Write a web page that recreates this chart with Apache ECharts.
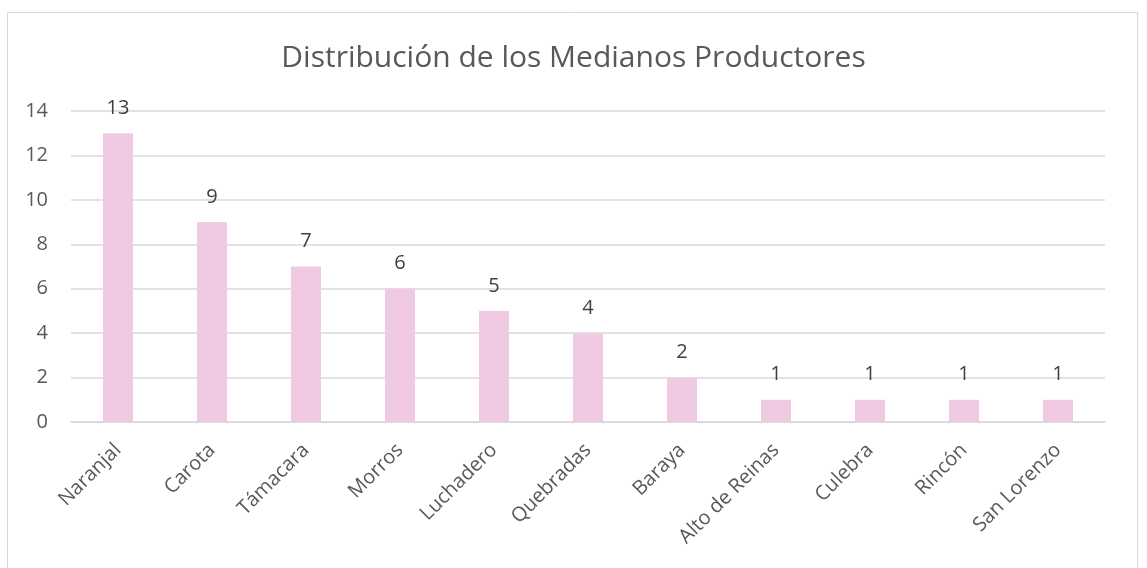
<!DOCTYPE html>
<html>
<head>
<meta charset="utf-8">
<script src="https://cdn.jsdelivr.net/npm/echarts@6/dist/echarts.min.js"></script>
<style>
  html, body { margin: 0; padding: 0; background: #fff; }
  #grafica { width: 1147px; height: 568px; }
</style>
</head>
<body>
<div id="grafica"></div>
<script>
const categorias = ["Naranjal", "Carota", "Támacara", "Morros", "Luchadero", "Quebradas", "Baraya", "Alto de Reinas", "Culebra", "Rincón", "San Lorenzo"];
const productores = [13, 9, 7, 6, 5, 4, 2, 1, 1, 1, 1];
const ticksY = [0, 2, 4, 6, 8, 10, 12, 14];

const fuente = "'Open Sans', sans-serif";

const getOptionChart = () => {
  return {
    backgroundColor: "#fff",
    animation: false,
    title: {
      text: "Distribución de los Medianos Productores",
      left: "center",
      top: 38,
      textStyle: {
        fontFamily: fuente,
        fontSize: 30,
        fontWeight: "normal",
        color: "#595959",
      },
    },
    graphic: [
      {
        type: "rect",
        shape: { x: 7.5, y: 12.5, width: 1130, height: 570 },
        style: { fill: "none", stroke: "#d9d9d9", lineWidth: 1 },
        silent: true,
      },
    ],
    grid: { left: 71, right: 42, top: 111, bottom: 146 },
    xAxis: {
      type: "category",
      data: categorias,
      axisLine: { lineStyle: { color: "#d9d9d9", width: 1.5 } },
      axisTick: { show: false },
      axisLabel: {
        rotate: 45,
        interval: 0,
        margin: 25,
        fontFamily: fuente,
        fontSize: 20,
        color: "#595959",
      },
    },
    yAxis: {
      type: "value",
      min: ticksY[0],
      max: ticksY[ticksY.length - 1],
      interval: 2,
      axisLine: { show: false },
      axisTick: { show: false },
      splitLine: { lineStyle: { color: "#d9d9d9", width: 1.5 } },
      axisLabel: {
        margin: 23,
        fontFamily: fuente,
        fontSize: 20,
        color: "#595959",
      },
    },
    series: [
      {
        type: "bar",
        data: productores,
        barWidth: 30,
        itemStyle: { color: "#f0cae3" },
        label: {
          show: true,
          position: "top",
          distance: 15,
          fontFamily: fuente,
          fontSize: 20,
          color: "#404040",
        },
      },
    ],
  };
};

const initCharts = () => {
  const chart = echarts.init(document.querySelector("#grafica"));
  chart.setOption(getOptionChart());
};

initCharts();
</script>
</body>
</html>
